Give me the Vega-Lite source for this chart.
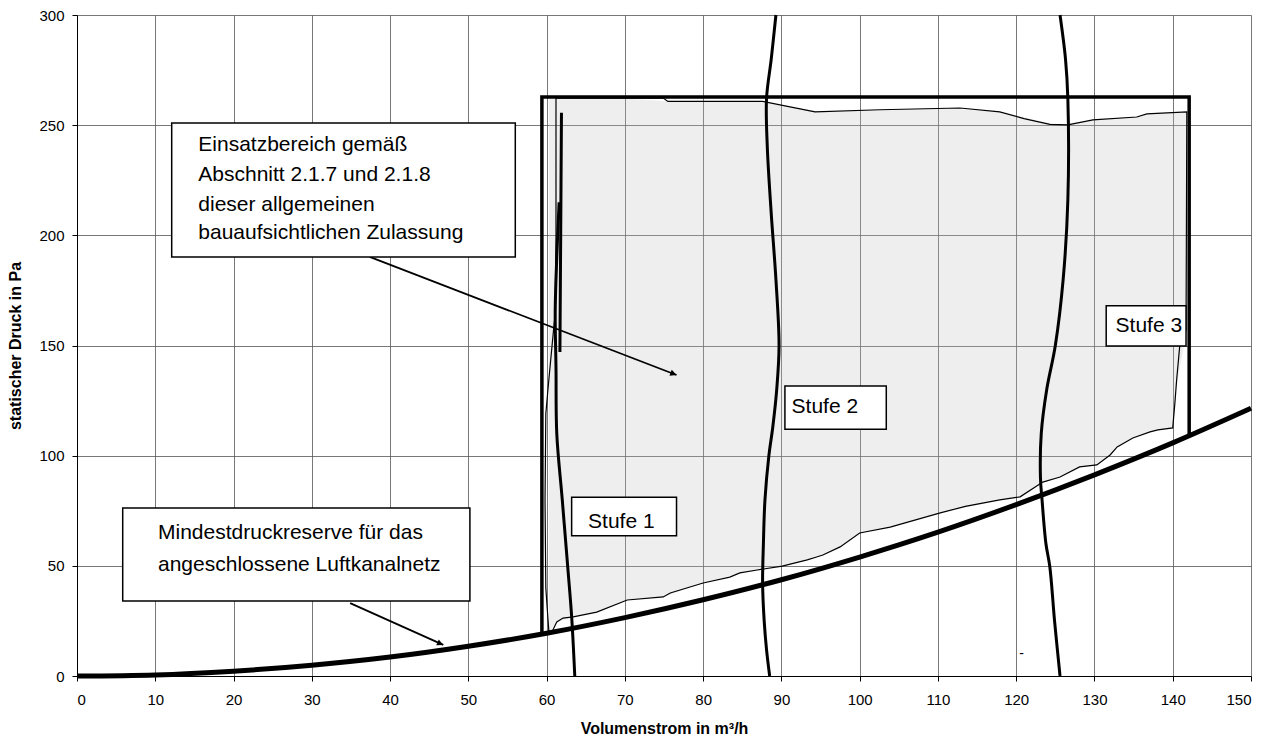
{
  "$schema": "https://vega.github.io/schema/vega-lite/v6.json",
  "width": 1174,
  "height": 661,
  "autosize": {"type": "none"},
  "padding": {"left": 77, "top": 15, "right": 29, "bottom": 69},
  "background": "white",
  "config": {
    "view": {"stroke": null},
    "font": "Liberation Sans",
    "axis": {
      "labelFont": "Liberation Sans", "labelFontSize": 15, "labelColor": "#000",
      "titleFont": "Liberation Sans", "titleFontSize": 16, "titleFontWeight": "bold", "titleColor": "#000",
      "domainColor": "#000", "domainWidth": 1, "tickColor": "#000", "tickSize": 5,
      "gridColor": "#555", "gridWidth": 0.8, "gridOpacity": 1
    }
  },
  "datasets": {
    "fill": [
      {"x": 60.3, "lo": 20, "hi": 262},
      {"x": 61.3, "lo": 24.5, "hi": 262},
      {"x": 63.4, "lo": 26.8, "hi": 262},
      {"x": 66.4, "lo": 29, "hi": 262},
      {"x": 70.3, "lo": 34.5, "hi": 262},
      {"x": 75, "lo": 36, "hi": 261},
      {"x": 80, "lo": 42.2, "hi": 260.8},
      {"x": 84.7, "lo": 46.8, "hi": 260.8},
      {"x": 87.6, "lo": 48, "hi": 260.8},
      {"x": 90.1, "lo": 49.9, "hi": 258.8},
      {"x": 93.3, "lo": 52.7, "hi": 257},
      {"x": 95.3, "lo": 54.9, "hi": 256},
      {"x": 97.5, "lo": 58.6, "hi": 256.3},
      {"x": 100, "lo": 64.9, "hi": 256.5},
      {"x": 103.9, "lo": 67.6, "hi": 257},
      {"x": 110.3, "lo": 74, "hi": 257.8},
      {"x": 117.9, "lo": 79.9, "hi": 256},
      {"x": 120.5, "lo": 81.3, "hi": 254},
      {"x": 123.4, "lo": 88, "hi": 251.5},
      {"x": 125.6, "lo": 90.3, "hi": 250.3},
      {"x": 128.1, "lo": 94.9, "hi": 251.5},
      {"x": 130.3, "lo": 95.8, "hi": 252.4},
      {"x": 132, "lo": 100.3, "hi": 253},
      {"x": 132.9, "lo": 104, "hi": 253.3},
      {"x": 134.9, "lo": 108, "hi": 253.7},
      {"x": 137.1, "lo": 110.8, "hi": 255},
      {"x": 140, "lo": 112.6, "hi": 255.8},
      {"x": 140.4, "lo": 130, "hi": 256},
      {"x": 141.8, "lo": 157, "hi": 256}
    ],
    "measured": [
      {"i": 1, "x": 60.3, "y": 19.5}, {"i": 2, "x": 59.9, "y": 40}, {"i": 3, "x": 59.8, "y": 80},
      {"i": 4, "x": 59.9, "y": 119}, {"i": 5, "x": 60.3, "y": 135}, {"i": 6, "x": 60.7, "y": 150},
      {"i": 7, "x": 61.1, "y": 165}, {"i": 8, "x": 61.2, "y": 200}, {"i": 9, "x": 61.2, "y": 262.3},
      {"i": 10, "x": 74.9, "y": 262.3}, {"i": 11, "x": 75.5, "y": 260.8}, {"i": 12, "x": 87.6, "y": 260.8},
      {"i": 13, "x": 91.1, "y": 258.3}, {"i": 14, "x": 94.3, "y": 256}, {"i": 15, "x": 102.6, "y": 257},
      {"i": 16, "x": 112.8, "y": 257.8}, {"i": 17, "x": 117.9, "y": 256}, {"i": 18, "x": 121, "y": 253},
      {"i": 19, "x": 124.3, "y": 250.4}, {"i": 20, "x": 126.6, "y": 250.1}, {"i": 21, "x": 129.8, "y": 252.4},
      {"i": 22, "x": 135.4, "y": 253.7}, {"i": 23, "x": 136.7, "y": 255.1}, {"i": 24, "x": 141.8, "y": 256},
      {"i": 25, "x": 141.7, "y": 157}, {"i": 26, "x": 140.9, "y": 150}, {"i": 27, "x": 140.5, "y": 134.4},
      {"i": 28, "x": 140.3, "y": 125}, {"i": 29, "x": 140.0, "y": 112.6}, {"i": 30, "x": 138.1, "y": 111.7},
      {"i": 31, "x": 137.1, "y": 110.8}, {"i": 32, "x": 134.9, "y": 108}, {"i": 33, "x": 132.9, "y": 104},
      {"i": 34, "x": 132.0, "y": 100.3}, {"i": 35, "x": 130.3, "y": 95.8}, {"i": 36, "x": 128.1, "y": 94.9},
      {"i": 37, "x": 125.6, "y": 90.3}, {"i": 38, "x": 123.4, "y": 88}, {"i": 39, "x": 120.5, "y": 81.3},
      {"i": 40, "x": 117.9, "y": 79.9}, {"i": 41, "x": 113.5, "y": 77}, {"i": 42, "x": 110.3, "y": 74},
      {"i": 43, "x": 103.9, "y": 67.6}, {"i": 44, "x": 100, "y": 64.9}, {"i": 45, "x": 97.5, "y": 58.6},
      {"i": 46, "x": 95.3, "y": 54.9}, {"i": 47, "x": 94.5, "y": 54}, {"i": 48, "x": 93.3, "y": 52.7},
      {"i": 49, "x": 90.1, "y": 49.9}, {"i": 50, "x": 86.9, "y": 48.1}, {"i": 51, "x": 84.7, "y": 46.8},
      {"i": 52, "x": 83.4, "y": 44.9}, {"i": 53, "x": 80, "y": 42.2}, {"i": 54, "x": 75.8, "y": 37.7},
      {"i": 55, "x": 74.9, "y": 35.9}, {"i": 56, "x": 70.3, "y": 34.5}, {"i": 57, "x": 66.4, "y": 29},
      {"i": 58, "x": 63.4, "y": 26.8}, {"i": 59, "x": 62.1, "y": 26.3}, {"i": 60, "x": 61.3, "y": 24.5},
      {"i": 61, "x": 60.8, "y": 20.9}
    ],
    "stufen": [
      {"s": "S1", "i": 1, "x": 61.6, "y": 215}, {"s": "S1", "i": 2, "x": 61.3, "y": 190},
      {"s": "S1", "i": 3, "x": 61.1, "y": 165}, {"s": "S1", "i": 4, "x": 61.2, "y": 140},
      {"s": "S1", "i": 5, "x": 61.3, "y": 110}, {"s": "S1", "i": 6, "x": 62.0, "y": 80},
      {"s": "S1", "i": 7, "x": 62.7, "y": 49.5}, {"s": "S1", "i": 8, "x": 63.2, "y": 27},
      {"s": "S1", "i": 9, "x": 63.6, "y": 0},
      {"s": "S1b", "i": 1, "x": 61.9, "y": 255.6}, {"s": "S1b", "i": 2, "x": 61.8, "y": 200},
      {"s": "S1b", "i": 3, "x": 61.7, "y": 147},
      {"s": "S2", "i": 1, "x": 89.3, "y": 300}, {"s": "S2", "i": 2, "x": 88.7, "y": 280},
      {"s": "S2", "i": 3, "x": 88.1, "y": 262}, {"s": "S2", "i": 4, "x": 88.2, "y": 240},
      {"s": "S2", "i": 5, "x": 88.7, "y": 210}, {"s": "S2", "i": 6, "x": 89.3, "y": 180},
      {"s": "S2", "i": 7, "x": 89.7, "y": 150}, {"s": "S2", "i": 8, "x": 89.4, "y": 130},
      {"s": "S2", "i": 9, "x": 88.9, "y": 113}, {"s": "S2", "i": 10, "x": 88.4, "y": 100},
      {"s": "S2", "i": 11, "x": 87.9, "y": 80}, {"s": "S2", "i": 12, "x": 87.7, "y": 60},
      {"s": "S2", "i": 13, "x": 87.6, "y": 42}, {"s": "S2", "i": 14, "x": 87.8, "y": 25},
      {"s": "S2", "i": 15, "x": 88.1, "y": 12}, {"s": "S2", "i": 16, "x": 88.5, "y": 0},
      {"s": "S3", "i": 1, "x": 125.6, "y": 300}, {"s": "S3", "i": 2, "x": 126.3, "y": 280},
      {"s": "S3", "i": 3, "x": 126.6, "y": 262}, {"s": "S3", "i": 4, "x": 126.6, "y": 216},
      {"s": "S3", "i": 5, "x": 126.0, "y": 180}, {"s": "S3", "i": 6, "x": 125.0, "y": 150},
      {"s": "S3", "i": 7, "x": 123.9, "y": 130}, {"s": "S3", "i": 8, "x": 123.2, "y": 110},
      {"s": "S3", "i": 9, "x": 123.1, "y": 90}, {"s": "S3", "i": 10, "x": 123.3, "y": 80},
      {"s": "S3", "i": 11, "x": 123.8, "y": 60}, {"s": "S3", "i": 12, "x": 124.3, "y": 49.5},
      {"s": "S3", "i": 13, "x": 124.9, "y": 25}, {"s": "S3", "i": 14, "x": 125.6, "y": 0}
    ],
    "boundary": [
      {"i": 1, "x": 59.4, "y": 19.2}, {"i": 2, "x": 59.4, "y": 262.8},
      {"i": 3, "x": 142.1, "y": 262.8}, {"i": 4, "x": 142.1, "y": 109}
    ],
    "mindest": [
      {"x": 0, "y": 0}, {"x": 10, "y": 0.5}, {"x": 20, "y": 2.2}, {"x": 30, "y": 4.9},
      {"x": 40, "y": 8.6}, {"x": 50, "y": 13.5}, {"x": 60, "y": 19.4}, {"x": 70, "y": 26.5},
      {"x": 80, "y": 34.6}, {"x": 90, "y": 43.7}, {"x": 100, "y": 54}, {"x": 110, "y": 65.3},
      {"x": 120, "y": 77.8}, {"x": 130, "y": 91.3}, {"x": 140, "y": 105.8}, {"x": 150, "y": 121.5}
    ],
    "arrows": [
      {"a": "E", "x": 37.4, "y": 190.2, "x2": 76.6, "y2": 136.6},
      {"a": "M", "x": 34.9, "y": 33.1, "x2": 46.8, "y2": 14.1}
    ],
    "boxes": [
      {"b": "E", "x": 12.1, "x2": 56, "y": 190.2, "y2": 251},
      {"b": "M", "x": 5.84, "x2": 50.2, "y": 34, "y2": 76.3},
      {"b": "S1", "x": 63.2, "x2": 76.6, "y": 63.6, "y2": 81.1},
      {"b": "S2", "x": 90.45, "x2": 103.4, "y": 112, "y2": 131.6},
      {"b": "S3", "x": 131.5, "x2": 141.7, "y": 149.8, "y2": 168}
    ],
    "labels": [
      {"x": 15.5, "y": 241, "t": "Einsatzbereich gemäß"},
      {"x": 15.5, "y": 227.4, "t": "Abschnitt 2.1.7 und 2.1.8"},
      {"x": 15.5, "y": 213.8, "t": "dieser allgemeinen"},
      {"x": 15.5, "y": 201.1, "t": "bauaufsichtlichen Zulassung"},
      {"x": 10.35, "y": 64.9, "t": "Mindestdruckreserve für das"},
      {"x": 10.35, "y": 50.4, "t": "angeschlossene Luftkanalnetz"},
      {"x": 65.3, "y": 70, "t": "Stufe 1"},
      {"x": 91.3, "y": 122.2, "t": "Stufe 2"},
      {"x": 132.7, "y": 158.9, "t": "Stufe 3"}
    ],
    "marks": [
      {"x": 120.7, "y": 10, "t": "-"}
    ]
  },
  "layer": [
    {
      "data": {"name": "fill"},
      "mark": {"type": "area", "fill": "#bdbdbd", "fillOpacity": 0.25, "interpolate": "linear"},
      "encoding": {
        "x": {"field": "x", "type": "quantitative",
              "scale": {"domain": [0, 150], "nice": false, "zero": false},
              "axis": {"title": "Volumenstrom in m³/h", "values": [0,10,20,30,40,50,60,70,80,90,100,110,120,130,140,150],
                       "labelPadding": 11, "titlePadding": 13, "grid": true}},
        "y": {"field": "lo", "type": "quantitative",
              "scale": {"domain": [0, 300], "nice": false, "zero": false},
              "axis": {"title": "statischer Druck in Pa", "values": [0,50,100,150,200,250,300],
                       "labelPadding": 8, "titlePadding": 15, "grid": true}},
        "y2": {"field": "hi"}
      }
    },
    {
      "data": {"name": "measured"},
      "mark": {"type": "line", "color": "#000", "strokeWidth": 1.2, "interpolate": "linear"},
      "encoding": {
        "x": {"field": "x", "type": "quantitative"},
        "y": {"field": "y", "type": "quantitative"},
        "order": {"field": "i", "type": "quantitative"}
      }
    },
    {
      "data": {"name": "stufen"},
      "mark": {"type": "line", "color": "#000", "strokeWidth": 3, "interpolate": "catmull-rom"},
      "encoding": {
        "x": {"field": "x", "type": "quantitative"},
        "y": {"field": "y", "type": "quantitative"},
        "detail": {"field": "s"},
        "order": {"field": "i", "type": "quantitative"}
      }
    },
    {
      "data": {"name": "boundary"},
      "mark": {"type": "line", "color": "#000", "strokeWidth": 3.5, "strokeJoin": "miter"},
      "encoding": {
        "x": {"field": "x", "type": "quantitative"},
        "y": {"field": "y", "type": "quantitative"},
        "order": {"field": "i", "type": "quantitative"}
      }
    },
    {
      "data": {"name": "mindest"},
      "mark": {"type": "line", "color": "#000", "strokeWidth": 5, "interpolate": "monotone"},
      "encoding": {
        "x": {"field": "x", "type": "quantitative"},
        "y": {"field": "y", "type": "quantitative"}
      }
    },
    {
      "data": {"name": "arrows"},
      "mark": {"type": "rule", "color": "#000", "strokeWidth": 1.8},
      "encoding": {
        "x": {"field": "x", "type": "quantitative"},
        "y": {"field": "y", "type": "quantitative"},
        "x2": {"field": "x2"},
        "y2": {"field": "y2"}
      }
    },
    {
      "data": {"name": "arrows"},
      "transform": [{"filter": "datum.a === 'E'"}],
      "mark": {"type": "point", "shape": "M0,0L-1,-0.5L-1,0.5Z", "filled": true, "color": "#000", "size": 160, "angle": 21, "opacity": 1},
      "encoding": {
        "x": {"field": "x2", "type": "quantitative"},
        "y": {"field": "y2", "type": "quantitative"}
      }
    },
    {
      "data": {"name": "arrows"},
      "transform": [{"filter": "datum.a === 'M'"}],
      "mark": {"type": "point", "shape": "M0,0L-1,-0.5L-1,0.5Z", "filled": true, "color": "#000", "size": 160, "angle": 24, "opacity": 1},
      "encoding": {
        "x": {"field": "x2", "type": "quantitative"},
        "y": {"field": "y2", "type": "quantitative"}
      }
    },
    {
      "data": {"name": "boxes"},
      "mark": {"type": "rect", "fill": "#fff", "stroke": "#000", "strokeWidth": 1.5},
      "encoding": {
        "x": {"field": "x", "type": "quantitative"},
        "x2": {"field": "x2"},
        "y": {"field": "y", "type": "quantitative"},
        "y2": {"field": "y2"}
      }
    },
    {
      "data": {"name": "labels"},
      "mark": {"type": "text", "align": "left", "baseline": "middle", "font": "Liberation Sans", "fontSize": 21, "color": "#000"},
      "encoding": {
        "x": {"field": "x", "type": "quantitative"},
        "y": {"field": "y", "type": "quantitative"},
        "text": {"field": "t"}
      }
    },
    {
      "data": {"name": "marks"},
      "mark": {"type": "text", "align": "center", "baseline": "middle", "font": "Liberation Sans", "fontSize": 14, "color": "#000"},
      "encoding": {
        "x": {"field": "x", "type": "quantitative"},
        "y": {"field": "y", "type": "quantitative"},
        "text": {"field": "t"}
      }
    }
  ]
}
